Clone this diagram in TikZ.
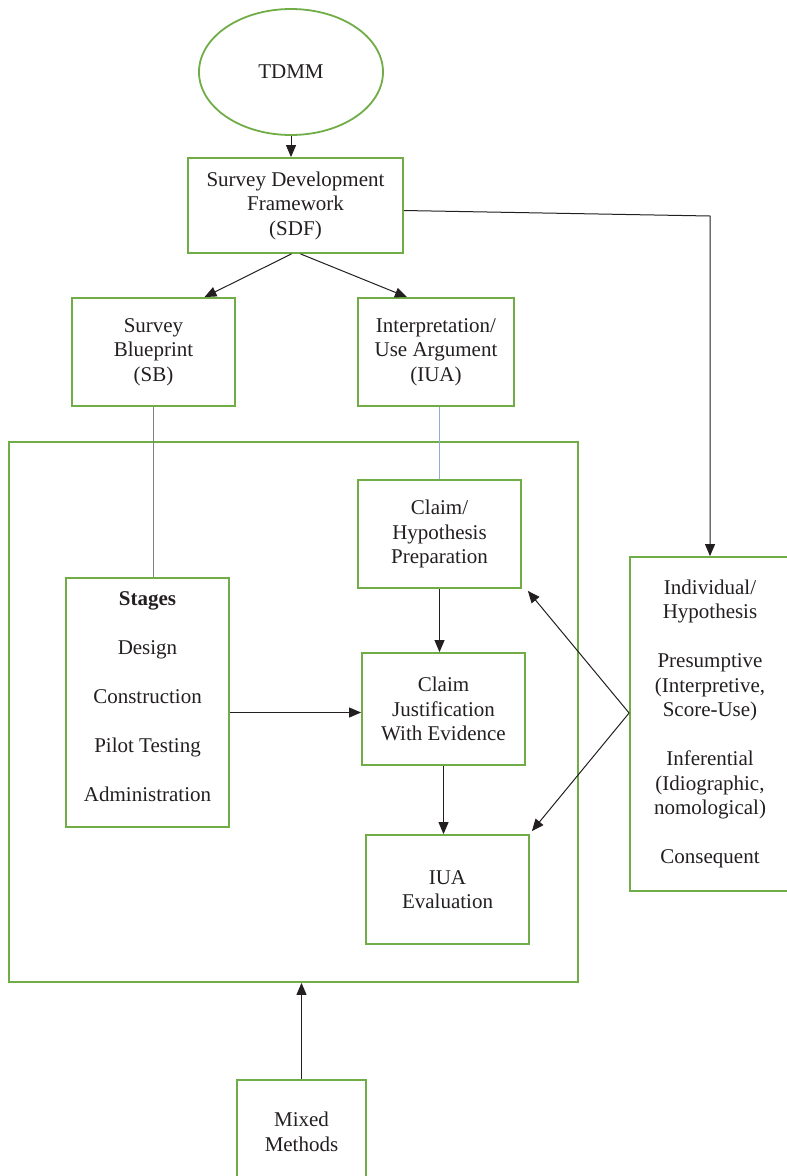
\documentclass[tikz,border=0pt]{standalone}
\usepackage{fontspec}
\setmainfont{Liberation Serif}
\usetikzlibrary{arrows.meta,shapes.geometric}
\definecolor{boxgreen}{RGB}{112,173,71}
\definecolor{linkblue}{RGB}{143,170,220}
\definecolor{linkgray}{RGB}{128,128,128}
\definecolor{inkc}{RGB}{35,31,32}
\begin{document}
\begin{tikzpicture}[x=1pt,y=-1pt,
  box/.style={draw=boxgreen, line width=1.8pt, align=center, inner sep=0pt, text=inkc,
              font=\fontsize{21}{24.5}\selectfont},
  plain/.style={align=center, inner sep=0pt, text=inkc, font=\fontsize{21}{24.5}\selectfont},
  conn/.style={draw=inkc, line width=1pt},
  arr/.style={conn, -{Triangle[length=12pt,width=10pt]}},
  graylink/.style={draw=linkgray, line width=1.4pt},
  bluelink/.style={draw=linkblue, line width=1.4pt}]
\useasboundingbox (0,0) rectangle (787,1176);

\node[box, ellipse, minimum width=184pt, minimum height=126pt] (tdmm) at (291,72) {TDMM};
\node[box, minimum width=215pt, minimum height=95pt] (sdf) at (295.5,205.5)
  {Survey Development\\Framework\\(SDF)};
\node[box, minimum width=163pt, minimum height=108pt] (sb) at (153.5,352)
  {Survey\\Blueprint\\(SB)};
\node[box, minimum width=156pt, minimum height=108pt] (iua) at (436,352)
  {Interpretation/\\Use Argument\\(IUA)};
\node[box, minimum width=569pt, minimum height=540pt] (big) at (293.5,712) {};
\node[box, minimum width=163pt, minimum height=108pt] (chp) at (439.5,534)
  {Claim/\\Hypothesis\\Preparation};
\node[box, minimum width=163pt, minimum height=249pt] (stagesbox) at (147.5,702.5) {};
\node[plain] (stagestext) at (147.5,697)
  {\textbf{Stages}\\[24.5pt]Design\\[24.5pt]Construction\\[24.5pt]Pilot Testing\\[24.5pt]Administration};
\node[box, minimum width=163pt, minimum height=112pt] (cje) at (443.5,709)
  {Claim\\Justification\\With Evidence};
\node[box, minimum width=163pt, minimum height=109pt] (eval) at (447.5,889.5)
  {IUA\\Evaluation};
\node[box, minimum width=160pt, minimum height=334pt] (ind) at (710,724)
  {Individual/\\Hypothesis\\[24.5pt]Presumptive\\(Interpretive,\\Score-Use)\\[24.5pt]Inferential\\(Idiographic,\\nomological)\\[24.5pt]Consequent};
\node[box, minimum width=129pt, minimum height=104pt] (mixed) at (301.5,1132)
  {Mixed\\Methods};

\coordinate (bend) at (710,216);
\coordinate (fork) at ([yshift=11pt]ind.west);

\draw[arr] (tdmm.south) -- (tdmm.south |- sdf.north);
\draw[arr] ([xshift=-4pt]sdf.south) -- ([xshift=51pt]sb.north);
\draw[arr] ([xshift=5pt]sdf.south) -- ([xshift=-29pt]iua.north);
\draw[arr] ([yshift=-5pt]sdf.east) -- (bend) -- (ind.north);
\draw[graylink] (sb.south) -- (sb.south |- stagesbox.north);
\draw[bluelink] (iua.south -| chp.north) -- (chp.north);
\draw[arr] (chp.south) -- (chp.south |- cje.north);
\draw[arr] ([yshift=-10pt]stagesbox.east) -- ([yshift=-10pt]stagesbox.east -| cje.west);
\draw[arr] (cje.south) -- (cje.south |- eval.north);
\draw[arr] (fork) -- ([xshift=6pt,yshift=-2pt]chp.south east);
\draw[arr] (fork) -- ([xshift=2pt,yshift=3pt]eval.north east);
\draw[arr] (mixed.north) -- (mixed.north |- big.south);
\end{tikzpicture}
\end{document}
